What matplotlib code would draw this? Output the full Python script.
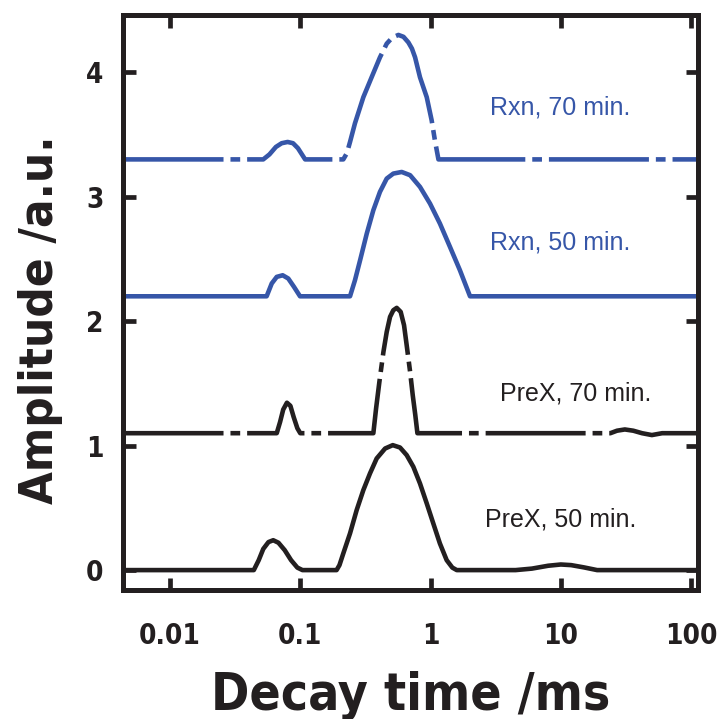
import numpy as np
import matplotlib.pyplot as plt

plt.rcParams['font.family'] = ['DejaVu Sans']
plt.rcParams['lines.scale_dashes'] = False

blue = '#3656a8'
black = '#231f20'

# decay time (ms) and amplitude, offsets applied at plot time
prex50_t = [0.0044, 0.044, 0.048, 0.052, 0.057, 0.062, 0.068, 0.076, 0.085, 0.095, 0.104,
            0.190, 0.200, 0.214, 0.241, 0.271, 0.305, 0.343, 0.386, 0.448, 0.513, 0.583,
            0.656, 0.738, 0.830, 0.935, 1.05, 1.18, 1.33, 1.47, 1.59,
            4.5, 6.0, 8.0, 10.0, 12.0, 15.0, 19.0, 110]
prex50_a = [0, 0, 0.08, 0.17, 0.225, 0.24, 0.22, 0.16, 0.08, 0.02, 0,
            0, 0.04, 0.134, 0.295, 0.482, 0.643, 0.777, 0.897, 0.977, 1.004, 0.985,
            0.924, 0.830, 0.696, 0.536, 0.375, 0.214, 0.080, 0.02, 0,
            0, 0.012, 0.035, 0.045, 0.04, 0.022, 0, 0]

prex70_t = [0.0044, 0.066, 0.070, 0.074, 0.079, 0.084, 0.089, 0.095, 0.100,
            0.364, 0.382, 0.405, 0.435, 0.461, 0.489, 0.518, 0.550, 0.590, 0.626,
            0.656, 0.697, 0.730, 0.764, 0.793,
            24.0, 27.0, 31.0, 36.0, 42.0, 50.0, 60.0, 110]
prex70_a = [0, 0, 0.09, 0.19, 0.245, 0.22, 0.13, 0.04, 0,
            0, 0.199, 0.413, 0.654, 0.814, 0.935, 0.988, 1.007, 0.975, 0.868,
            0.707, 0.493, 0.306, 0.145, 0,
            0, 0.02, 0.03, 0.02, 0.0, -0.015, 0, 0]

rxn50_t = [0.0044, 0.0552, 0.0604, 0.0660, 0.0733, 0.0809, 0.0895, 0.0996,
           0.241, 0.263, 0.288, 0.324, 0.364, 0.409, 0.461, 0.518, 0.601, 0.697,
           0.830, 0.991, 1.18, 1.41, 1.68, 2.01, 110]
rxn50_a = [0, 0, 0.103, 0.156, 0.169, 0.143, 0.076, 0,
           0, 0.129, 0.290, 0.504, 0.692, 0.839, 0.946, 0.986, 0.999, 0.973,
           0.879, 0.745, 0.585, 0.397, 0.210, 0, 0]

rxn70_t = [0.0044, 0.052, 0.058, 0.065, 0.072, 0.080, 0.088, 0.096, 0.103, 0.109,
           0.214, 0.228, 0.241, 0.263, 0.305, 0.353, 0.409, 0.461, 0.510, 0.567,
           0.620, 0.676, 0.720, 0.761, 0.830, 0.935, 1.02, 1.08, 1.15, 110]
rxn70_a = [0, 0, 0.04, 0.10, 0.13, 0.14, 0.13, 0.09, 0.04, 0,
           0, 0.05, 0.14, 0.29, 0.50, 0.66, 0.82, 0.93, 0.98, 1.0,
           0.985, 0.94, 0.89, 0.82, 0.66, 0.50, 0.314, 0.154, 0, 0]

offsets = [0, 1.1, 2.2, 3.3]
labels = ['PreX, 50 min.', 'PreX, 70 min.', 'Rxn, 50 min.', 'Rxn, 70 min.']
label_x = [9.9, 12.9, 9.9, 9.9]
label_y = [0.41, 1.42, 2.63, 3.72]

series = [(prex50_t, prex50_a), (prex70_t, prex70_a), (rxn50_t, rxn50_a), (rxn70_t, rxn70_a)]
colors = [black, black, blue, blue]
dashed = [False, True, False, True]

fig = plt.figure(figsize=(7.24, 7.19), dpi=100)
ax = fig.add_axes([0.1699, 0.1794, 0.7942, 0.7997])

for (t, a), off, c, d, lab, lx, ly in zip(series, offsets, colors, dashed, labels, label_x, label_y):
    y = np.array(a) + off
    line, = ax.plot(t, y, color=c, lw=3.3, solid_joinstyle='round')
    if d:
        line.set_dashes((72, 5, 7, 5))
        line.set_dash_capstyle('butt')
    ax.text(lx, ly, lab, color=c, fontsize=18, ha='center', va='center',
            family='Liberation Sans')

ax.set_xscale('log')
ax.set_xlim(0.00436, 113)
ax.set_ylim(-0.16, 4.46)
ax.set_xticks([0.01, 0.1, 1, 10, 100])
ax.set_xticklabels(['0.01', '0.1', '1', '10', '100'])
ax.set_yticks([0, 1, 2, 3, 4])
ax.minorticks_off()

for s in ax.spines.values():
    s.set_linewidth(3.6)
    s.set_color(black)
ax.tick_params(direction='in', length=9, width=3.4, color=black,
               top=True, right=True, labelsize=20)
ax.tick_params(axis='x', pad=23)
ax.tick_params(axis='y', pad=14)
for lbl in ax.get_xticklabels() + ax.get_yticklabels():
    lbl.set_fontweight('bold')
    lbl.set_fontstretch('condensed')
    lbl.set_color(black)

ax.set_xlabel('Decay time /ms', fontsize=37, fontweight='bold', fontstretch='condensed', color=black)
ax.set_ylabel('Amplitude /a.u.', fontsize=34, fontweight='bold', fontstretch='condensed', color=black)
ax.xaxis.set_label_coords(0.5, -0.14)
ax.yaxis.set_label_coords(-0.105, 0.47)

fig.savefig('out.png', dpi=100)
